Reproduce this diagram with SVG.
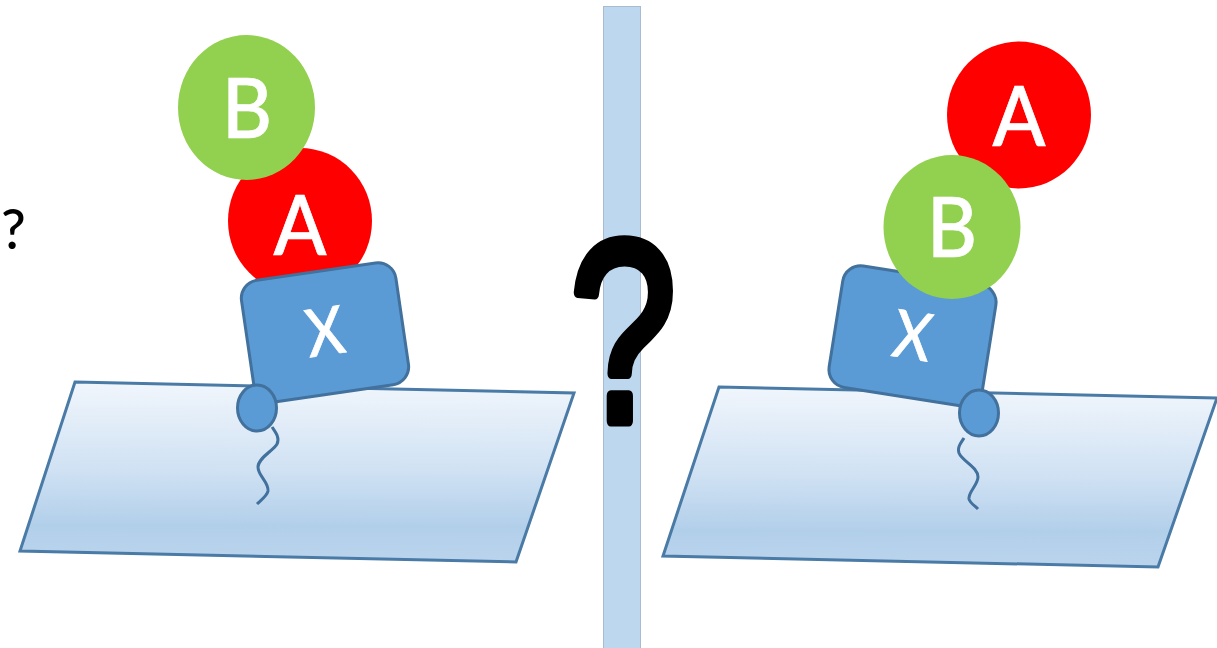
<svg xmlns="http://www.w3.org/2000/svg" width="1217" height="648" viewBox="0 0 1217 648">
  <style>
    .plate { fill: url(#plateFill); stroke: #4A7BA6; stroke-width: 3; stroke-linejoin: miter; }
    .receptor { fill: #5B9BD5; stroke: #41719C; stroke-width: 3; }
    .tail { fill: none; stroke: #41719C; stroke-width: 3; stroke-linecap: butt; }
    .red { fill: #FF0000; }
    .green { fill: #92D050; }
    .label { font-family: "Lato", "Open Sans", "Liberation Sans", sans-serif; font-weight: 500; fill: #FFFFFF; stroke: #FFFFFF; stroke-width: 0.7; text-anchor: middle; }
    .mark { font-family: "Lato", "Open Sans", "Liberation Sans", sans-serif; fill: #000000; text-anchor: middle; }
    .mark-large { font-family: "Liberation Sans", "Open Sans", sans-serif; fill: #000000; stroke: #000000; stroke-width: 11; stroke-linejoin: round; text-anchor: middle; }
  </style>
  <defs>
    <linearGradient id="plateFill" x1="0.5" y1="0" x2="0.49" y2="1">
      <stop offset="0" stop-color="#F1F6FC"/>
      <stop offset="0.5" stop-color="#CFE1F3"/>
      <stop offset="0.8" stop-color="#B2CFEA"/>
      <stop offset="1" stop-color="#BBD4ED"/>
    </linearGradient>
  </defs>
  <rect width="1217" height="648" fill="#FFFFFF"/>

  <!-- central divider -->
  <g id="divider">
    <rect x="603.5" y="6.5" width="37" height="642" fill="#BDD7EE" stroke="#A9BBD0" stroke-width="1"/>
  </g>

  <!-- left arrangement -->
  <g id="plate-left">
    <polygon class="plate" points="75,382 574,393 516,562 20,551"/>
  </g>
  <g id="tail-left">
    <path class="tail" d="M272,427 C276,433 280,438 277,444 C273,451 258,458 258,467 C258,476 269,482 268,491 C267,496 261,500 257,504"/>
  </g>
  <g id="a-left">
    <ellipse class="red" cx="300" cy="221" rx="72" ry="73"/>
    <text class="label" x="300" y="255" font-size="84" textLength="53" lengthAdjust="spacingAndGlyphs">A</text>
  </g>
  <g id="x-left">
    <rect class="receptor" x="247" y="271" width="156" height="123" rx="18" transform="rotate(-8.3 325 332.500)"/>
    <text class="label" x="325" y="355" font-size="66" textLength="38" lengthAdjust="spacingAndGlyphs" transform="rotate(-8.3 325 332.500)">X</text>
  </g>
  <g id="anchor-left">
    <ellipse class="receptor" cx="257" cy="408" rx="19.5" ry="23"/>
  </g>
  <g id="b-left">
    <ellipse class="green" cx="246.500" cy="107.500" rx="68.500" ry="72.500"/>
    <text class="label" x="247" y="138" font-size="84" textLength="50" lengthAdjust="spacingAndGlyphs">B</text>
  </g>

  <!-- right arrangement -->
  <g id="plate-right">
    <polygon class="plate" points="719,387 1217,398 1158,567 663,556"/>
  </g>
  <g id="tail-right">
    <path class="tail" d="M964,438 C961,443 957,447 959,453 C962,461 978,467 978,477 C978,485 968,492 969,499 C970,503 975,506 978,509"/>
  </g>
  <g id="a-right">
    <ellipse class="red" cx="1019" cy="115" rx="72" ry="73.500"/>
    <text class="label" x="1019" y="146" font-size="84" textLength="53" lengthAdjust="spacingAndGlyphs">A</text>
  </g>
  <g id="x-right">
    <rect class="receptor" x="835" y="274.500" width="155" height="123" rx="18" transform="rotate(9 912.500 336)"/>
    <text class="label" x="912.500" y="359" font-size="66" textLength="38" lengthAdjust="spacingAndGlyphs" transform="rotate(9 912.500 336)">X</text>
  </g>
  <g id="anchor-right">
    <ellipse class="receptor" cx="979" cy="413" rx="19.5" ry="23"/>
  </g>
  <g id="b-right">
    <ellipse class="green" cx="952" cy="227" rx="68.500" ry="72"/>
    <text class="label" x="952" y="257" font-size="84" textLength="50" lengthAdjust="spacingAndGlyphs">B</text>
  </g>

  <!-- question marks -->
  <g id="question-small">
    <text class="mark" x="13.500" y="249" font-size="55" font-weight="500">?</text>
  </g>
  <g id="question-large">
    <text class="mark-large" x="623" y="421" font-size="258" textLength="106" lengthAdjust="spacingAndGlyphs">?</text>
  </g>
</svg>
